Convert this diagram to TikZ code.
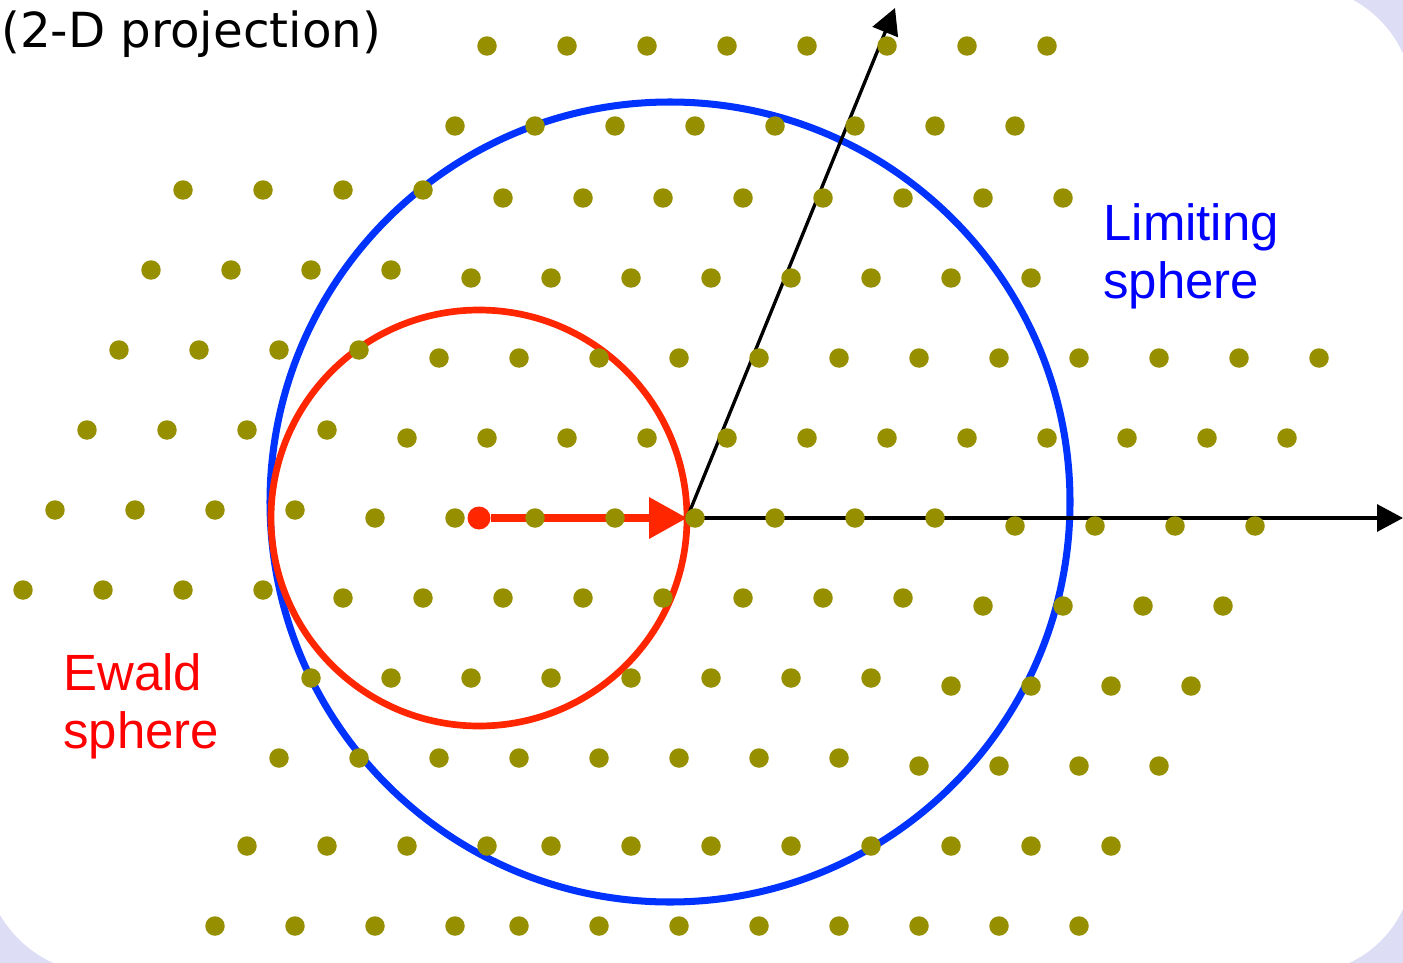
\documentclass[tikz,border=0pt]{standalone}
\usepackage{fontspec}
\setmainfont{Liberation Sans}
\newfontfamily\titlefont{DejaVu Sans}
\usetikzlibrary{arrows.meta}
\definecolor{dotolive}{RGB}{150,143,0}
\definecolor{slidebg}{RGB}{221,221,246}
\definecolor{ewaldred}{RGB}{255,38,0}
\definecolor{limitblue}{RGB}{0,51,255}

\begin{document}
\begin{tikzpicture}[x=0.02cm,y=-0.02cm,
  latticept/.style={circle,fill=dotolive,inner sep=0pt,minimum size=0.39cm},
  axisarrow/.style={line width=1.9pt,-{Triangle[length=0.52cm,width=0.54cm]}},
  spherelabel/.style={anchor=base west,inner sep=0pt,align=left,font=\fontsize{29}{32.5}\selectfont}]

\useasboundingbox (0,0) rectangle (1403,963);
\fill[slidebg] (0,0) rectangle (1403,963);
\fill[white,rounded corners=2.2cm] (-60,-60) -- (1413,-10) -- (1413,973) -- (-10,973) -- cycle;

\node[anchor=base west,inner sep=0pt,font=\titlefont\fontsize{27.5}{32}\selectfont] (title) at (1,48) {(2-D projection)};

\draw[limitblue,line width=4pt] (670,502) circle (400);
\draw[ewaldred,line width=3.8pt] (479,518) circle (208);

\coordinate (origin) at (687,518);
\coordinate (xtip) at (1403,518);
\coordinate (ytip) at (895,8);
\draw[axisarrow] (origin) -- (xtip);
\draw[axisarrow] (origin) -- (ytip);

\node[circle,fill=ewaldred,inner sep=0pt,minimum size=0.46cm] (ewaldcentre) at (479,518) {};
\draw[ewaldred,line width=4pt,-{Triangle[length=0.76cm,width=0.8cm]}] (ewaldcentre) -- (origin);

\foreach \y/\xs/\n [count=\k] in {46/487/7, 126/455/7, 190/183/3, 198/503/7,
    270/151/3, 278/471/7, 350/119/3, 358/439/11, 430/87/3, 438/407/11,
    510/55/3, 518/375/7, 526/1015/3, 590/23/3, 598/343/7, 606/983/3,
    678/311/7, 686/951/3, 758/279/7, 766/919/3, 846/247/3, 846/551/7,
    926/215/3, 926/519/7}
  \foreach \i in {0,...,\n}
    \node[latticept] (pt\k-\i) at (\xs+80*\i,\y) {};

\node[spherelabel,text=blue] (limiting) at (1103,298) {Limiting\\sphere};
\node[spherelabel,text=red] (ewald) at (63,748) {Ewald\\sphere};
\end{tikzpicture}
\end{document}
